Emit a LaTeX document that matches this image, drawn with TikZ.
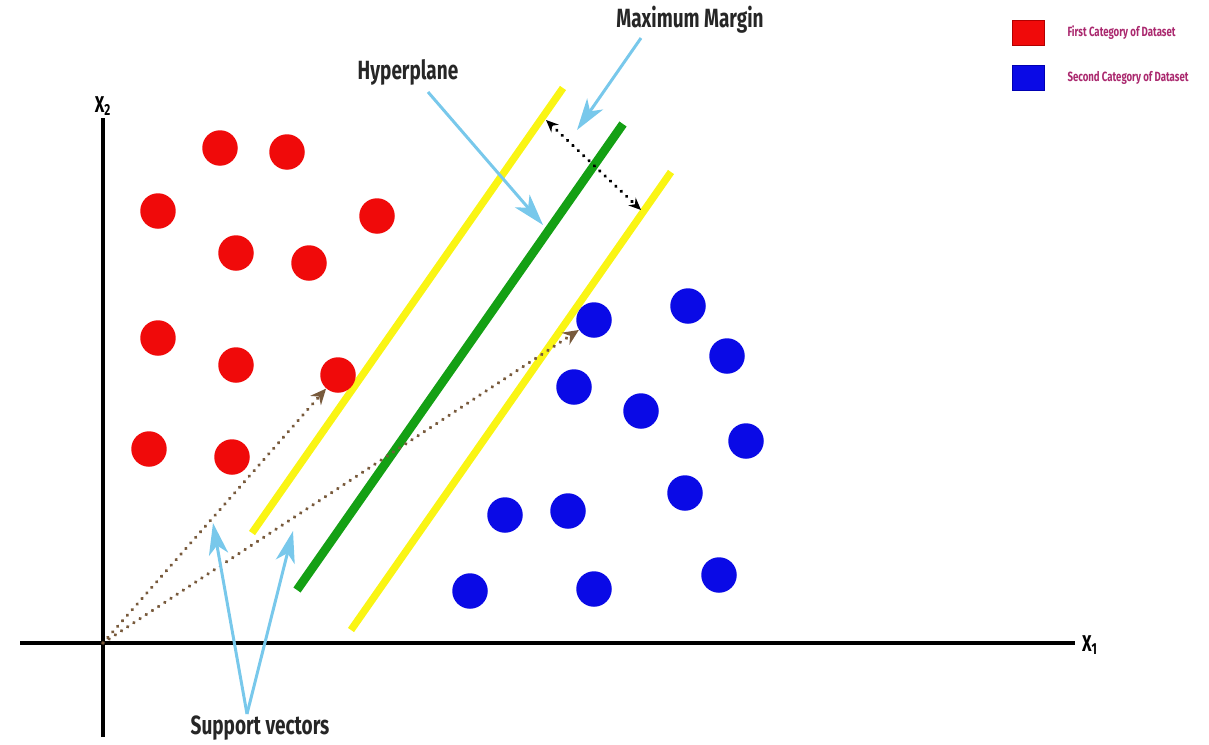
\documentclass[tikz,border=0pt]{standalone}
\usepackage{fontspec}
\setmainfont{Fira Sans}
\newfontfamily\labelfont[FakeStretch=0.72]{Fira Sans}
\usetikzlibrary{arrows.meta,positioning}
\definecolor{dotred}{RGB}{240,10,10}
\definecolor{dotblue}{RGB}{10,10,230}
\definecolor{skyarrow}{RGB}{120,200,235}
\definecolor{vecbrown}{RGB}{120,90,60}
\definecolor{legendtext}{RGB}{170,40,110}
\definecolor{marginyellow}{RGB}{250,245,20}
\definecolor{planegreen}{RGB}{20,160,20}
\tikzset{
  reddot/.style={circle, fill=dotred, draw=none, minimum size=0.71cm, inner sep=0pt},
  bluedot/.style={circle, fill=dotblue, draw=none, minimum size=0.71cm, inner sep=0pt},
  axis/.style={line width=2.2pt, draw=black},
  marginline/.style={line width=4.2pt, draw=marginyellow},
  planeline/.style={line width=5pt, draw=planegreen},
  pointer/.style={-{Stealth[length=18pt, width=11pt, inset=5pt]}, line width=1.7pt, draw=skyarrow},
  supvec/.style={-{Stealth[length=9pt, width=8pt, inset=3pt]}, line width=2.1pt, draw=vecbrown, dash pattern=on 0.01pt off 4.2pt, line cap=round},
  widthmark/.style={{Stealth[length=7pt, width=6pt]}-{Stealth[length=7pt, width=6pt]}, line width=2.1pt, draw=black, dash pattern=on 0.01pt off 4.2pt, line cap=round},
  tag/.style={font=\labelfont\bfseries\fontsize{15}{18}\selectfont, text=black!85, inner sep=1pt},
  axislabel/.style={font=\labelfont\bfseries\fontsize{13}{15}\selectfont, inner sep=1pt},
  keybox/.style={rectangle, minimum width=0.64cm, minimum height=0.5cm, inner sep=0pt},
  keytext/.style={font=\labelfont\bfseries\fontsize{7.6}{9}\selectfont, text=legendtext, anchor=west, inner sep=0pt}
}

\begin{document}
\begin{tikzpicture}[x=0.02cm, y=-0.02cm]
  \useasboundingbox (0,0) rectangle (1209,744);

  % axes
  \coordinate (o) at (103,643);
  \coordinate (xl) at (20,643);
  \coordinate (xr) at (1075,643);
  \coordinate (yt) at (103,118);
  \coordinate (yb) at (103,737);
  \draw[axis] (xl) -- (xr);
  \draw[axis] (yb) -- (yt);
  \node[axislabel, anchor=west] (xone) at (1080,645) {X\textsubscript{1}};
  \node[axislabel, anchor=south] (xtwo) at (103,118) {X\textsubscript{2}};

  % margins and hyperplane
  \coordinate (ya) at (252,533);
  \coordinate (yA) at (563,88);
  \coordinate (ga) at (297,590);
  \coordinate (gA) at (623,124);
  \coordinate (yc) at (351,630);
  \coordinate (yC) at (671,172);
  \draw[marginline] (ya) -- (yA);
  \draw[planeline] (ga) -- (gA);
  \draw[marginline] (yc) -- (yC);

  % first category
  \foreach \n/\x/\y in {1/220/148, 2/287/152, 3/158/211, 4/377/216, 5/236/253, 6/309/263,
                        7/158/338, 8/236/365, 9/338/375, 10/149/449, 11/232/457}
    \node[reddot] (r\n) at (\x,\y) {};

  % second category
  \foreach \n/\x/\y in {1/594/320, 2/688/306, 3/727/356, 4/574/387, 5/641/411, 6/746/441,
                        7/685/493, 8/505/515, 9/568/511, 10/470/591, 11/594/589, 12/719/575}
    \node[bluedot] (b\n) at (\x,\y) {};

  % support vectors
  \draw[supvec] (o) -- (r9);
  \draw[supvec] (o) -- (b1);

  % margin width
  \coordinate (mw1) at (546,120);
  \coordinate (mw2) at (641,210);
  \draw[widthmark] (mw1) -- (mw2);

  % labels
  \node[tag] (hyp) at (408,72) {Hyperplane};
  \node[tag] (maxm) at (690,20) {Maximum Margin};
  \node[tag] (supp) at (260,728) {Support vectors};
  \coordinate (hyptip) at (543,225);
  \coordinate (maxtip) at (577,130);
  \coordinate (suptip1) at (213,523);
  \coordinate (suptip2) at (293,531);
  \coordinate (hypfoot) at (428,92);
  \coordinate (maxfoot) at (641,38);
  \coordinate (supfoot) at (247,714);
  \draw[pointer] (hypfoot) -- (hyptip);
  \draw[pointer] (maxfoot) -- (maxtip);
  \draw[pointer] (supfoot) -- (suptip1);
  \draw[pointer] (supfoot) -- (suptip2);

  % legend
  \node[keybox, fill=dotred, draw=red!70!black] (k1) at (1028,33) {};
  \node[keybox, fill=dotblue, draw=blue!70!black] (k2) at (1028,78) {};
  \node[keytext, right=13pt of k1] (k1t) {First Category of Dataset};
  \node[keytext, right=13pt of k2] (k2t) {Second Category of Dataset};
\end{tikzpicture}
\end{document}
